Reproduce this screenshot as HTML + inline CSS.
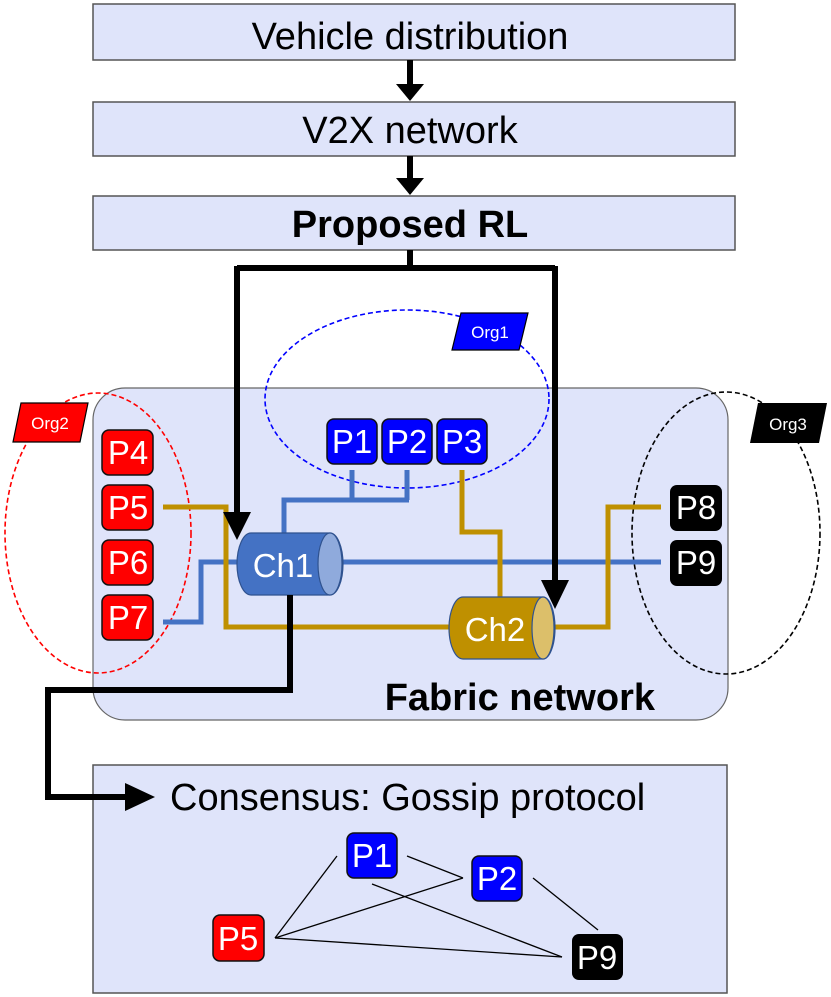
<!DOCTYPE html>
<html><head><meta charset="utf-8"><style>html,body{margin:0;padding:0;background:#fff}svg{display:block}text{font-family:"Liberation Sans",Arial,sans-serif}</style></head>
<body>
<svg width="831" height="997" viewBox="0 0 831 997" xmlns="http://www.w3.org/2000/svg">
<!-- top boxes -->
<rect x="93" y="4" width="642" height="56" fill="#dfe4fa" stroke="#555" stroke-width="1.5"/>
<text x="410" y="49" font-size="38" text-anchor="middle">Vehicle distribution</text>
<line x1="410" y1="60" x2="410" y2="86" stroke="#000" stroke-width="6"/>
<polygon points="396,84 424,84 410,101" fill="#000"/>
<rect x="93" y="102" width="642" height="54" fill="#dfe4fa" stroke="#555" stroke-width="1.5"/>
<text x="410" y="143" font-size="38" text-anchor="middle">V2X network</text>
<line x1="410" y1="156" x2="410" y2="180" stroke="#000" stroke-width="6"/>
<polygon points="396,178 424,178 410,195" fill="#000"/>
<rect x="93" y="196" width="642" height="54" fill="#dfe4fa" stroke="#555" stroke-width="1.5"/>
<text x="410" y="237" font-size="38" font-weight="bold" text-anchor="middle">Proposed RL</text>

<!-- fabric box -->
<rect x="93" y="388" width="635" height="332" rx="32" fill="#dfe4fa" stroke="#666" stroke-width="1.2"/>
<text x="655" y="710" font-size="38" font-weight="bold" text-anchor="end">Fabric network</text>

<!-- org ellipses -->
<ellipse cx="407" cy="399" rx="142" ry="89" fill="none" stroke="#00f" stroke-width="1.6" stroke-dasharray="5,3"/>
<ellipse cx="98" cy="533" rx="93" ry="140" fill="none" stroke="#f00" stroke-width="1.6" stroke-dasharray="5,3"/>
<ellipse cx="726" cy="533" rx="94" ry="141" fill="none" stroke="#000" stroke-width="1.6" stroke-dasharray="5,3"/>

<!-- org labels -->
<polygon points="461,313 528,313 519,350 452,350" fill="#00f" stroke="#000" stroke-width="1.2"/>
<text x="490" y="338" font-size="17" fill="#fff" text-anchor="middle">Org1</text>
<polygon points="21,403 88,403 80,442 13,442" fill="#f00" stroke="#000" stroke-width="1.2"/>
<text x="50" y="429" font-size="17" fill="#fff" text-anchor="middle">Org2</text>
<polygon points="758,403 827,403 819,443 750,443" fill="#000"/>
<text x="788" y="430" font-size="17" fill="#fff" text-anchor="middle">Org3</text>

<!-- blue lines -->
<g fill="none" stroke="#4472c4" stroke-width="5">
<polyline points="352,470 352,500"/>
<polyline points="407,470 407,500"/>
<polyline points="409,500 284,500 284,534"/>
<polyline points="342,562 661,562"/>
<polyline points="163,622 201,622 201,562 237,562"/>
</g>
<!-- gold lines -->
<g fill="none" stroke="#bf9000" stroke-width="5">
<polyline points="163,507 226,507 226,627 449,627"/>
<polyline points="462,470 462,532 500,532 500,597"/>
<polyline points="555,627 608,627 608,507 661,507"/>
</g>

<!-- Ch1 cylinder -->
<path d="M251,533 L330,533 A13,31 0 0 1 330,595 L251,595 A14,31 0 0 1 251,533 Z" fill="#4472c4" stroke="#2f528f" stroke-width="1.2"/>
<ellipse cx="330" cy="564" rx="12" ry="31" fill="#8faadc" stroke="#2f528f" stroke-width="1.2"/>
<text x="283" y="577" font-size="33" fill="#fff" text-anchor="middle">Ch1</text>
<!-- Ch2 cylinder -->
<path d="M463,597 L543,597 A12,31 0 0 1 543,659 L463,659 A14,31 0 0 1 463,597 Z" fill="#bf9000" stroke="#2f528f" stroke-width="1.2"/>
<ellipse cx="543" cy="628" rx="11" ry="31" fill="#dcbf6a" stroke="#2f528f" stroke-width="1.2"/>
<text x="495" y="641" font-size="33" fill="#fff" text-anchor="middle">Ch2</text>

<!-- consensus box -->
<rect x="93" y="765" width="634" height="228" fill="#dfe4fa" stroke="#555" stroke-width="1.5"/>
<text x="170" y="810" font-size="38">Consensus: Gossip protocol</text>

<!-- black connectors -->
<g fill="none" stroke="#000" stroke-width="6">
<polyline points="410,250 410,268"/>
<polyline points="237,268 555,268"/>
<polyline points="237,266 237,515"/>
<polyline points="555,266 555,590"/>
<polyline points="290,595 290,690 48,690 48,797 130,797"/>
</g>
<polygon points="223,512 251,512 237,540" fill="#000"/>
<polygon points="541,580 569,580 555,609" fill="#000"/>
<polygon points="125,783 125,811 155,797" fill="#000"/>

<!-- peers -->
<g font-size="33" fill="#fff" text-anchor="middle" stroke-width="1.5">
<rect x="327" y="419" width="50" height="45" rx="7" fill="#00f" stroke="#111"/>
<rect x="382" y="419" width="50" height="45" rx="7" fill="#00f" stroke="#111"/>
<rect x="437" y="419" width="50" height="45" rx="7" fill="#00f" stroke="#111"/>
<rect x="102" y="430" width="51" height="45" rx="7" fill="#f00" stroke="#111"/>
<rect x="102" y="485" width="51" height="45" rx="7" fill="#f00" stroke="#111"/>
<rect x="102" y="540" width="51" height="45" rx="7" fill="#f00" stroke="#111"/>
<rect x="102" y="595" width="51" height="45" rx="7" fill="#f00" stroke="#111"/>
<rect x="670" y="485" width="52" height="46" rx="7" fill="#000"/>
<rect x="670" y="540" width="52" height="46" rx="7" fill="#000"/>
<text x="352" y="453">P1</text><text x="407" y="453">P2</text><text x="462" y="453">P3</text>
<text x="128" y="464">P4</text><text x="128" y="519">P5</text><text x="128" y="574">P6</text><text x="128" y="629">P7</text>
<text x="696" y="519">P8</text><text x="696" y="574">P9</text>
</g>

<g stroke="#000" stroke-width="1.3">
<line x1="337" y1="856" x2="275" y2="938"/>
<line x1="407" y1="856" x2="463" y2="878"/>
<line x1="372" y1="884" x2="562" y2="957"/>
<line x1="463" y1="878" x2="275" y2="938"/>
<line x1="275" y1="938" x2="562" y2="957"/>
<line x1="533" y1="878" x2="598" y2="930"/>
</g>
<g font-size="33" fill="#fff" text-anchor="middle" stroke-width="1.5">
<rect x="347" y="833" width="50" height="45" rx="7" fill="#00f" stroke="#111"/>
<rect x="472" y="856" width="50" height="45" rx="7" fill="#00f" stroke="#111"/>
<rect x="213" y="915" width="51" height="46" rx="7" fill="#f00" stroke="#111"/>
<rect x="572" y="934" width="51" height="46" rx="7" fill="#000"/>
<text x="372" y="867">P1</text><text x="497" y="890">P2</text><text x="238" y="950">P5</text><text x="597" y="969">P9</text>
</g>
</svg>
</body></html>
